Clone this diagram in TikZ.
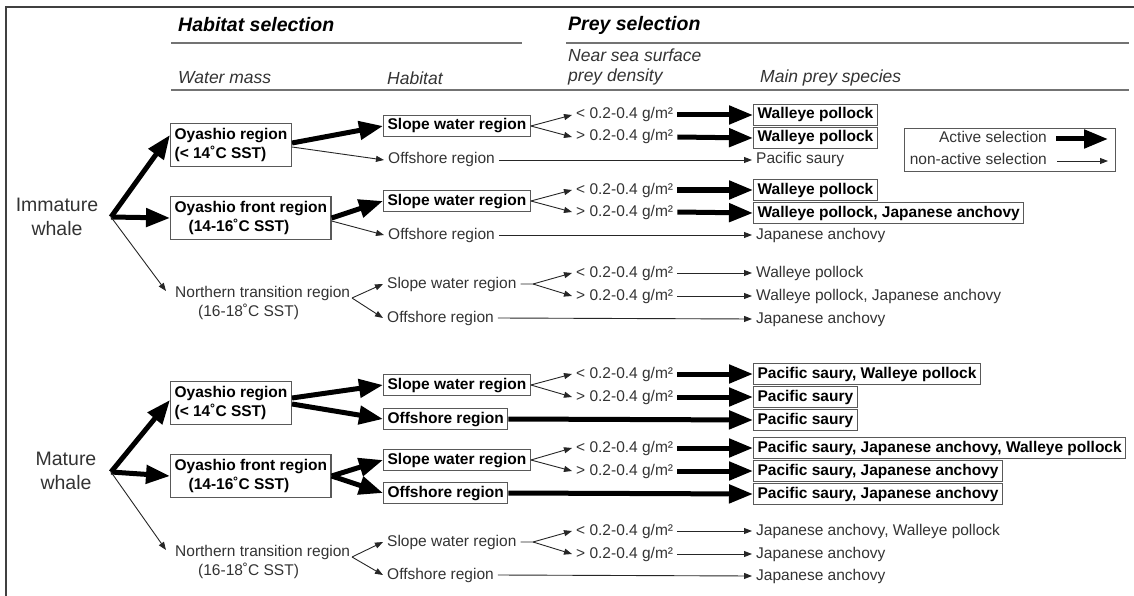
\documentclass[tikz,border=0pt]{standalone}
\usepackage{fontspec}
\setmainfont{Liberation Sans}
\usepackage{tikz}
\usetikzlibrary{positioning,arrows.meta}
\tikzstyle{txt} = [font=\fontsize{15.5pt}{18pt}\selectfont, text=black!80, inner xsep=4pt, inner ysep=3pt, text height=11.5pt, text depth=3.5pt, anchor=west]
\tikzstyle{block} = [txt, draw=black!65, line width=1.2pt, text=black, font=\fontsize{15.5pt}{18pt}\selectfont\bfseries]
\tikzstyle{twotxt} = [font=\fontsize{15.5pt}{19pt}\selectfont, text=black!80, align=left, inner xsep=4pt, anchor=west]
\tikzstyle{twoblock} = [twotxt, draw=black!65, line width=1.2pt, text=black, font=\fontsize{15.5pt}{19pt}\selectfont\bfseries, minimum height=43pt]
\tikzstyle{whaletxt} = [font=\fontsize{19.5pt}{24pt}\selectfont, text=black!80, align=center]
\tikzstyle{headtxt} = [font=\fontsize{19.5pt}{22pt}\selectfont\bfseries\itshape, inner sep=0pt, anchor=west]
\tikzstyle{subtxt} = [font=\fontsize{17.5pt}{20pt}\selectfont\itshape, text=black!80, inner sep=0pt, anchor=west, align=left]
\tikzstyle{active} = [-{Triangle[length=24pt,width=18pt]}, line width=5pt]
\tikzstyle{passive} = [-{Triangle[length=8pt,width=6pt]}, line width=0.9pt, black!85]
\tikzstyle{hrule} = [line width=2pt, black!55]

\begin{document}
\begin{tikzpicture}[x=1pt,y=-1pt]
	\useasboundingbox (0,0) rectangle (1134,596);
	\draw[line width=2pt, black!75] (1134,7) -- (6,7) -- (6,596);

	% headings
	\node[headtxt] (habsel) at (178,25) {Habitat selection};
	\node[headtxt] (preysel) at (568,25) {Prey selection};
	\node[subtxt] (watermass) at (178,78) {Water mass};
	\node[subtxt] (habitat) at (387,78) {Habitat};
	\node[subtxt] (density) at (568,67) {Near sea surface\\prey density};
	\node[subtxt] (preysp) at (760,78) {Main prey species};
	\draw[hrule] (171,43) -- (522,43);
	\draw[hrule] (566,43) -- (1129,43);
	\draw[hrule] (171,90) -- (1129,90);

	% legend
	\node[draw=black!65, line width=1.2pt, minimum width=211pt, minimum height=43pt, anchor=north west] (legend) at (904,128) {};
	\node[txt, anchor=east] (actlbl) at (1051,139) {Active selection};
	\node[txt, anchor=east] (paslbl) at (1051,161) {non-active selection};
	\coordinate (actend) at (1108,139);
	\coordinate (pasend) at (1108,161);
	\draw[active] ([xshift=5pt]actlbl.east) -- (actend);
	\draw[passive] ([xshift=6pt]paslbl.east) -- (pasend);

	% immature whale
	\node[whaletxt] (imm) at (57,217) {Immature\\whale};
	\coordinate (immfork) at (111,217);
	\node[twoblock] (imoy) at (170,145) {Oyashio region\\(< 14˚C SST)};
	\node[twoblock] (imfr) at (170,218) {Oyashio front region\\\hspace*{14pt}(14-16˚C SST)};
	\node[twotxt] (imnt) at (171,303) {Northern transition region\\\hspace*{23pt}(16-18˚C SST)};

	\node[block] (imsl1) at (383,126) {Slope water region};
	\node[txt] (imof1) at (384,160) {Offshore region};
	\node[block] (imsl2) at (383,201) {Slope water region};
	\node[txt] (imof2) at (384,235) {Offshore region};
	\node[txt] (imsl3) at (383,284) {Slope water region};
	\node[txt] (imof3) at (383,318) {Offshore region};
	\coordinate (imfan3) at (533,284);
	\coordinate (imntfan) at (352,298);

	\node[txt] (imlo1) at (572,115) {< 0.2-0.4 g/m²};
	\node[txt] (imhi1) at (572,137) {> 0.2-0.4 g/m²};
	\node[txt] (imlo2) at (572,190) {< 0.2-0.4 g/m²};
	\node[txt] (imhi2) at (572,212) {> 0.2-0.4 g/m²};
	\node[txt] (imlo3) at (572,273) {< 0.2-0.4 g/m²};
	\node[txt] (imhi3) at (572,296) {> 0.2-0.4 g/m²};

	\node[block] (imsp1) at (753,115) {Walleye pollock};
	\node[block] (imsp2) at (753,138) {Walleye pollock};
	\node[txt] (imsp3) at (752,160) {Pacific saury};
	\node[block] (imsp4) at (753,190) {Walleye pollock};
	\node[block] (imsp5) at (753,213) {Walleye pollock, Japanese anchovy};
	\node[txt] (imsp6) at (752,235) {Japanese anchovy};
	\node[txt] (imsp7) at (752,273) {Walleye pollock};
	\node[txt] (imsp8) at (752,296) {Walleye pollock, Japanese anchovy};
	\node[txt] (imsp9) at (752,319) {Japanese anchovy};

	\draw[active] (immfork) -- ([yshift=10pt]imoy.west);
	\draw[active] (immfork) -- (imfr.west);
	\draw[passive] (immfork) -- ([xshift=-5pt,yshift=12pt]imnt.west);
	\draw[active] ([yshift=2pt]imoy.east) -- (imsl1.west);
	\draw[passive] ([yshift=-2pt]imoy.east) -- (imof1.west);
	\draw[active] (imfr.east) -- (imsl2.west);
	\draw[passive] ([yshift=-3pt]imfr.east) -- (imof2.west);
	\draw[passive] (imntfan) -- (imsl3.west);
	\draw[passive] (imntfan) -- (imof3.west);

	\draw[passive] (imsl1.east) -- (imlo1.west);
	\draw[passive] (imsl1.east) -- (imhi1.west);
	\draw[passive] (imsl2.east) -- (imlo2.west);
	\draw[passive] (imsl2.east) -- (imhi2.west);
	\draw[passive] (imsl3.east) -- (imfan3) -- (imlo3.west);
	\draw[passive] (imfan3) -- (imhi3.west);

	\draw[active] (imlo1.east) -- (imsp1.west);
	\draw[active] (imhi1.east) -- (imsp2.west);
	\draw[passive] (imof1.east) -- (imsp3.west);
	\draw[active] (imlo2.east) -- (imsp4.west);
	\draw[active] (imhi2.east) -- (imsp5.west);
	\draw[passive] (imof2.east) -- (imsp6.west);
	\draw[passive] (imlo3.east) -- (imsp7.west);
	\draw[passive] (imhi3.east) -- (imsp8.west);
	\draw[passive] (imof3.east) -- (imsp9.west);

	% mature whale
	\node[whaletxt] (mat) at (66,471) {Mature\\whale};
	\coordinate (matfork) at (111,472);
	\node[twoblock] (maoy) at (170,403) {Oyashio region\\(< 14˚C SST)};
	\node[twoblock] (mafr) at (170,476) {Oyashio front region\\\hspace*{14pt}(14-16˚C SST)};
	\node[twotxt] (mant) at (171,562) {Northern transition region\\\hspace*{23pt}(16-18˚C SST)};

	\node[block] (masl1) at (383,385) {Slope water region};
	\node[block] (maof1) at (383,419) {Offshore region};
	\node[block] (masl2) at (383,460) {Slope water region};
	\node[block] (maof2) at (383,493) {Offshore region};
	\node[txt] (masl3) at (383,542) {Slope water region};
	\node[txt] (maof3) at (383,575) {Offshore region};
	\coordinate (mafan3) at (533,542);
	\coordinate (mantfan) at (352,557);

	\node[txt] (malo1) at (572,374) {< 0.2-0.4 g/m²};
	\node[txt] (mahi1) at (572,397) {> 0.2-0.4 g/m²};
	\node[txt] (malo2) at (572,448) {< 0.2-0.4 g/m²};
	\node[txt] (mahi2) at (572,471) {> 0.2-0.4 g/m²};
	\node[txt] (malo3) at (572,531) {< 0.2-0.4 g/m²};
	\node[txt] (mahi3) at (572,554) {> 0.2-0.4 g/m²};

	\node[block] (masp1) at (753,374) {Pacific saury, Walleye pollock};
	\node[block] (masp2) at (753,397) {Pacific saury};
	\node[block] (masp3) at (753,420) {Pacific saury};
	\node[block] (masp4) at (753,448) {Pacific saury, Japanese anchovy, Walleye pollock};
	\node[block] (masp5) at (753,471) {Pacific saury, Japanese anchovy};
	\node[block] (masp6) at (753,494) {Pacific saury, Japanese anchovy};
	\node[txt] (masp7) at (752,531) {Japanese anchovy, Walleye pollock};
	\node[txt] (masp8) at (752,554) {Japanese anchovy};
	\node[txt] (masp9) at (752,576) {Japanese anchovy};

	\draw[active] (matfork) -- ([yshift=3pt]maoy.west);
	\draw[active] (matfork) -- (mafr.west);
	\draw[passive] (matfork) -- ([xshift=-5pt,yshift=12pt]mant.west);
	\draw[active] ([yshift=5pt]maoy.east) -- (masl1.west);
	\draw[active] ([yshift=-1pt]maoy.east) -- (maof1.west);
	\draw[active] (mafr.east) -- (masl2.west);
	\draw[active] (mafr.east) -- (maof2.west);
	\draw[passive] (mantfan) -- (masl3.west);
	\draw[passive] (mantfan) -- (maof3.west);

	\draw[passive] (masl1.east) -- (malo1.west);
	\draw[passive] (masl1.east) -- (mahi1.west);
	\draw[passive] (masl2.east) -- (malo2.west);
	\draw[passive] (masl2.east) -- (mahi2.west);
	\draw[passive] (masl3.east) -- (mafan3) -- (malo3.west);
	\draw[passive] (mafan3) -- (mahi3.west);

	\draw[active] (malo1.east) -- (masp1.west);
	\draw[active] (mahi1.east) -- (masp2.west);
	\draw[active] (maof1.east) -- (masp3.west);
	\draw[active] (malo2.east) -- (masp4.west);
	\draw[active] (mahi2.east) -- (masp5.west);
	\draw[active] (maof2.east) -- (masp6.west);
	\draw[passive] (malo3.east) -- (masp7.west);
	\draw[passive] (mahi3.east) -- (masp8.west);
	\draw[passive] (maof3.east) -- (masp9.west);
\end{tikzpicture}
\end{document}
